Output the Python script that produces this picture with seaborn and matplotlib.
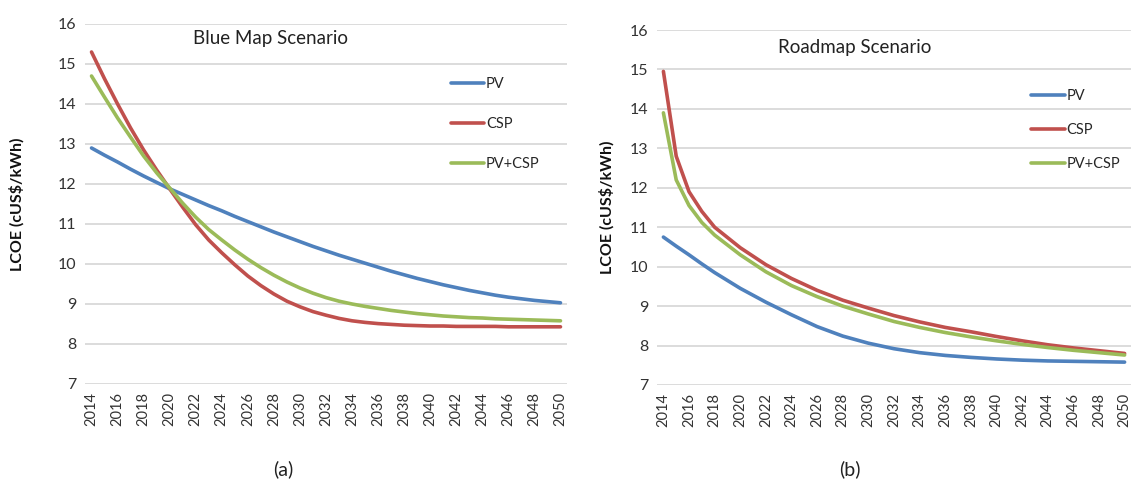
import numpy as np
import pandas as pd
import matplotlib
matplotlib.use("Agg")
import matplotlib.pyplot as plt
import seaborn as sns

# Levelised cost of electricity projections (cUS$/kWh)
blue_years = list(range(2014, 2051))
blue_pv = [12.9, 12.72, 12.55, 12.37, 12.2, 12.04, 11.88, 11.74, 11.6, 11.46,
           11.33, 11.19, 11.06, 10.93, 10.8, 10.68, 10.56, 10.44, 10.33, 10.22,
           10.12, 10.02, 9.92, 9.82, 9.73, 9.64, 9.56, 9.48, 9.41, 9.34,
           9.28, 9.22, 9.17, 9.13, 9.09, 9.06, 9.03]
blue_csp = [15.3, 14.63, 14.0, 13.4, 12.85, 12.35, 11.88, 11.42, 10.98, 10.6,
            10.28, 9.98, 9.7, 9.46, 9.25, 9.07, 8.93, 8.81, 8.72, 8.64,
            8.58, 8.54, 8.51, 8.49, 8.47, 8.46, 8.45, 8.45, 8.44, 8.44,
            8.44, 8.44, 8.43, 8.43, 8.43, 8.43, 8.43]
blue_mix = [14.7, 14.17, 13.65, 13.17, 12.7, 12.28, 11.9, 11.52, 11.17, 10.86,
            10.6, 10.35, 10.12, 9.91, 9.72, 9.55, 9.4, 9.27, 9.16, 9.07,
            9.0, 8.94, 8.89, 8.84, 8.8, 8.76, 8.73, 8.7, 8.68, 8.66,
            8.65, 8.63, 8.62, 8.61, 8.6, 8.59, 8.58]

road_years = [2014, 2015, 2016, 2017, 2018, 2020, 2022, 2024, 2026, 2028,
              2030, 2032, 2034, 2036, 2038, 2040, 2042, 2044, 2046, 2048, 2050]
road_pv = [10.75, 10.52, 10.3, 10.07, 9.85, 9.45, 9.1, 8.78, 8.48, 8.24,
           8.06, 7.92, 7.82, 7.75, 7.7, 7.66, 7.63, 7.61, 7.6, 7.59, 7.58]
road_csp = [14.95, 12.8, 11.9, 11.4, 11.0, 10.48, 10.05, 9.7, 9.4, 9.15,
            8.95, 8.76, 8.6, 8.46, 8.35, 8.23, 8.12, 8.02, 7.94, 7.87, 7.8]
road_mix = [13.9, 12.2, 11.55, 11.12, 10.8, 10.3, 9.87, 9.52, 9.24, 9.0,
            8.8, 8.61, 8.46, 8.33, 8.22, 8.12, 8.03, 7.95, 7.88, 7.82, 7.76]

series = ["PV", "CSP", "PV+CSP"]
colors = ["#4F81BD", "#C0504D", "#9BBB59"]
tick_years = list(range(2014, 2051, 2))
y_ticks = list(range(7, 17))


def long_frame(years, pv, csp, mix):
    parts = []
    for name, vals in zip(series, [pv, csp, mix]):
        parts.append(pd.DataFrame({"Year": years, "LCOE": vals, "Tech": name}))
    return pd.concat(parts, ignore_index=True)


sns.set_theme(style="white")
plt.rcParams["font.family"] = ["Lato", "DejaVu Sans"]

fig = plt.figure(figsize=(11.34, 4.91), dpi=100)
ax_a = fig.add_axes([85 / 1134, 107 / 491, 482 / 1134, 360 / 491])
ax_b = fig.add_axes([657 / 1134, 106 / 491, 474 / 1134, 355 / 491])

panels = [
    dict(ax=ax_a, df=long_frame(blue_years, blue_pv, blue_csp, blue_mix),
         title="Blue Map Scenario", tpos=(0.225, 0.961), lpos=(0.732, 0.888),
         lspace=1.77, ypad=24, cap="(a)", capx=283 / 1134),
    dict(ax=ax_b, df=long_frame(road_years, road_pv, road_csp, road_mix),
         title="Roadmap Scenario", tpos=(0.255, 0.95), lpos=(0.762, 0.870),
         lspace=1.37, ypad=11, cap="(b)", capx=850 / 1134),
]

for p in panels:
    ax = p["ax"]
    sns.lineplot(data=p["df"], x="Year", y="LCOE", hue="Tech", hue_order=series,
                 palette=colors, linewidth=2.6, ax=ax, legend=True)
    ax.set_xlim(2013.5, 2050.5)
    ax.set_ylim(7, 16)
    ax.set_yticks(y_ticks)
    ax.set_xticks(tick_years)
    ax.set_xticklabels([str(y) for y in tick_years], rotation=90, fontsize=10.5,
                       color="#333333")
    ax.set_yticklabels([str(v) for v in y_ticks], fontsize=11.5, color="#333333")
    ax.tick_params(axis="both", length=0, pad=6)
    ax.grid(axis="y", color="#d9d9d9", linewidth=1.3)
    ax.grid(axis="x", visible=False)
    for s in ax.spines.values():
        s.set_visible(False)
    ax.set_xlabel("")
    ax.set_ylabel("LCOE (cUS$/kWh)", fontsize=11.5, fontweight="bold",
                  labelpad=p["ypad"], color="#111111")
    ax.text(p["tpos"][0], p["tpos"][1], p["title"], transform=ax.transAxes,
            fontsize=13.5, ha="left", va="center", color="#222222")
    leg = ax.legend(loc="upper left", bbox_to_anchor=p["lpos"], frameon=False,
                    fontsize=10.5, handlelength=2.3, handletextpad=0.1,
                    labelspacing=p["lspace"])
    for line in leg.get_lines():
        line.set_linewidth(2.6)
    fig.text(p["capx"], 22 / 491, p["cap"], ha="center", va="center",
             fontsize=14, color="#222222")

fig.savefig("out.png", dpi=100, facecolor="white")
